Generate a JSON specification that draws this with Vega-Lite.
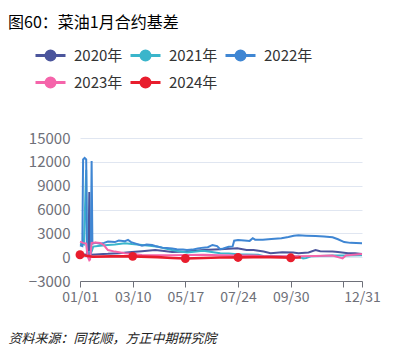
{
  "$schema": "https://vega.github.io/schema/vega-lite/v6.json",
  "width": 282,
  "height": 143,
  "autosize": {"type": "none"},
  "padding": {"left": 80, "top": 138, "right": 46, "bottom": 75},
  "background": "white",
  "config": {
    "font": "Noto Sans CJK SC",
    "view": {"stroke": null},
    "legend": {
      "orient": "none",
      "legendX": -41,
      "legendY": -94,
      "direction": "horizontal",
      "columns": 3,
      "symbolType": "M-1.5,0H1.5M-0.45,0A0.45,0.45 0 1,1 0.45,0A0.45,0.45 0 1,1 -0.45,0Z",
      "symbolSize": 400,
      "symbolStrokeWidth": 3,
      "labelFontSize": 15,
      "labelColor": "#333333",
      "labelOffset": 12,
      "columnPadding": 1,
      "rowPadding": 5
    }
  },
  "title": {
    "text": "图60：菜油1月合约基差",
    "anchor": "start",
    "frame": "group",
    "dx": -72,
    "dy": -5,
    "offset": 8,
    "fontSize": 16,
    "fontWeight": "normal",
    "color": "#000000"
  },
  "datasets": {
    "dots": [
      {"year": "2024年", "date": "2023/01/01", "value": 300},
      {"year": "2024年", "date": "2023/03/10", "value": 100},
      {"year": "2024年", "date": "2023/05/17", "value": -170},
      {"year": "2024年", "date": "2023/07/24", "value": -30},
      {"year": "2024年", "date": "2023/09/30", "value": -80}
    ]
  },
  "data": {"values": [
    {"year": "2020年", "date": "2023/01/01", "value": 400},
    {"year": "2020年", "date": "2023/01/06", "value": 350},
    {"year": "2020年", "date": "2023/01/12", "value": 300},
    {"year": "2020年", "date": "2023/01/13", "value": 8200},
    {"year": "2020年", "date": "2023/01/14", "value": 300},
    {"year": "2020年", "date": "2023/01/21", "value": 350},
    {"year": "2020年", "date": "2023/01/31", "value": 400},
    {"year": "2020年", "date": "2023/02/06", "value": 420},
    {"year": "2020年", "date": "2023/02/20", "value": 500},
    {"year": "2020年", "date": "2023/03/09", "value": 650},
    {"year": "2020年", "date": "2023/03/22", "value": 750},
    {"year": "2020年", "date": "2023/04/08", "value": 900},
    {"year": "2020年", "date": "2023/04/17", "value": 800},
    {"year": "2020年", "date": "2023/04/30", "value": 650},
    {"year": "2020年", "date": "2023/05/19", "value": 700},
    {"year": "2020年", "date": "2023/06/09", "value": 900},
    {"year": "2020年", "date": "2023/07/01", "value": 1000},
    {"year": "2020年", "date": "2023/07/23", "value": 1120},
    {"year": "2020年", "date": "2023/08/04", "value": 900},
    {"year": "2020年", "date": "2023/08/13", "value": 900},
    {"year": "2020年", "date": "2023/08/26", "value": 700},
    {"year": "2020年", "date": "2023/09/04", "value": 500},
    {"year": "2020年", "date": "2023/09/19", "value": 620},
    {"year": "2020年", "date": "2023/10/03", "value": 600},
    {"year": "2020年", "date": "2023/10/10", "value": 500},
    {"year": "2020年", "date": "2023/10/23", "value": 600},
    {"year": "2020年", "date": "2023/11/01", "value": 900},
    {"year": "2020年", "date": "2023/11/07", "value": 750},
    {"year": "2020年", "date": "2023/11/23", "value": 700},
    {"year": "2020年", "date": "2023/11/30", "value": 650},
    {"year": "2020年", "date": "2023/12/13", "value": 500},
    {"year": "2020年", "date": "2023/12/22", "value": 500},
    {"year": "2020年", "date": "2023/12/31", "value": 400},
    {"year": "2021年", "date": "2023/01/01", "value": 1700},
    {"year": "2021年", "date": "2023/01/06", "value": 1600},
    {"year": "2021年", "date": "2023/01/09", "value": 11000},
    {"year": "2021年", "date": "2023/01/10", "value": 600},
    {"year": "2021年", "date": "2023/01/16", "value": 700},
    {"year": "2021年", "date": "2023/01/18", "value": 1330},
    {"year": "2021年", "date": "2023/01/27", "value": 1450},
    {"year": "2021年", "date": "2023/02/06", "value": 1540},
    {"year": "2021年", "date": "2023/02/15", "value": 1600},
    {"year": "2021年", "date": "2023/02/28", "value": 1750},
    {"year": "2021年", "date": "2023/03/09", "value": 1650},
    {"year": "2021年", "date": "2023/03/22", "value": 1540},
    {"year": "2021年", "date": "2023/04/01", "value": 1450},
    {"year": "2021年", "date": "2023/04/12", "value": 1300},
    {"year": "2021年", "date": "2023/04/21", "value": 1100},
    {"year": "2021年", "date": "2023/04/30", "value": 900},
    {"year": "2021年", "date": "2023/05/09", "value": 750},
    {"year": "2021年", "date": "2023/05/19", "value": 600},
    {"year": "2021年", "date": "2023/05/31", "value": 700},
    {"year": "2021年", "date": "2023/06/09", "value": 800},
    {"year": "2021年", "date": "2023/06/20", "value": 650},
    {"year": "2021年", "date": "2023/07/01", "value": 500},
    {"year": "2021年", "date": "2023/07/12", "value": 450},
    {"year": "2021年", "date": "2023/07/23", "value": 360},
    {"year": "2021年", "date": "2023/08/04", "value": 350},
    {"year": "2021年", "date": "2023/08/19", "value": 300},
    {"year": "2021年", "date": "2023/08/28", "value": 100},
    {"year": "2021年", "date": "2023/09/08", "value": 150},
    {"year": "2021年", "date": "2023/09/19", "value": 100},
    {"year": "2021年", "date": "2023/09/30", "value": 80},
    {"year": "2021年", "date": "2023/10/10", "value": 100},
    {"year": "2021年", "date": "2023/10/16", "value": -150},
    {"year": "2021年", "date": "2023/10/20", "value": -100},
    {"year": "2021年", "date": "2023/10/26", "value": 100},
    {"year": "2021年", "date": "2023/11/07", "value": 150},
    {"year": "2021年", "date": "2023/11/23", "value": 200},
    {"year": "2021年", "date": "2023/12/07", "value": 200},
    {"year": "2021年", "date": "2023/12/31", "value": 250},
    {"year": "2022年", "date": "2023/01/01", "value": 1500},
    {"year": "2022年", "date": "2023/01/04", "value": 1400},
    {"year": "2022年", "date": "2023/01/05", "value": 12300},
    {"year": "2022年", "date": "2023/01/07", "value": 12500},
    {"year": "2022年", "date": "2023/01/09", "value": 12300},
    {"year": "2022年", "date": "2023/01/10", "value": 500},
    {"year": "2022年", "date": "2023/01/15", "value": 500},
    {"year": "2022年", "date": "2023/01/16", "value": 12100},
    {"year": "2022年", "date": "2023/01/17", "value": 1700},
    {"year": "2022年", "date": "2023/01/21", "value": 1800},
    {"year": "2022年", "date": "2023/01/27", "value": 1700},
    {"year": "2022年", "date": "2023/02/01", "value": 1800},
    {"year": "2022年", "date": "2023/02/06", "value": 1960},
    {"year": "2022年", "date": "2023/02/15", "value": 1900},
    {"year": "2022年", "date": "2023/02/20", "value": 2100},
    {"year": "2022年", "date": "2023/02/28", "value": 2000},
    {"year": "2022年", "date": "2023/03/04", "value": 2170},
    {"year": "2022年", "date": "2023/03/08", "value": 1900},
    {"year": "2022年", "date": "2023/03/14", "value": 1700},
    {"year": "2022年", "date": "2023/03/22", "value": 1450},
    {"year": "2022年", "date": "2023/03/28", "value": 1600},
    {"year": "2022年", "date": "2023/04/04", "value": 1540},
    {"year": "2022年", "date": "2023/04/08", "value": 1400},
    {"year": "2022年", "date": "2023/04/12", "value": 1300},
    {"year": "2022年", "date": "2023/04/17", "value": 1200},
    {"year": "2022年", "date": "2023/04/23", "value": 1150},
    {"year": "2022年", "date": "2023/04/30", "value": 1080},
    {"year": "2022年", "date": "2023/05/06", "value": 1000},
    {"year": "2022年", "date": "2023/05/14", "value": 950},
    {"year": "2022年", "date": "2023/05/19", "value": 900},
    {"year": "2022年", "date": "2023/05/26", "value": 950},
    {"year": "2022年", "date": "2023/06/02", "value": 1100},
    {"year": "2022年", "date": "2023/06/09", "value": 1200},
    {"year": "2022年", "date": "2023/06/15", "value": 1250},
    {"year": "2022年", "date": "2023/06/21", "value": 1540},
    {"year": "2022年", "date": "2023/06/27", "value": 1400},
    {"year": "2022年", "date": "2023/07/01", "value": 1000},
    {"year": "2022年", "date": "2023/07/05", "value": 1100},
    {"year": "2022年", "date": "2023/07/12", "value": 1300},
    {"year": "2022年", "date": "2023/07/17", "value": 1350},
    {"year": "2022年", "date": "2023/07/19", "value": 2080},
    {"year": "2022年", "date": "2023/07/24", "value": 2150},
    {"year": "2022年", "date": "2023/08/01", "value": 2100},
    {"year": "2022年", "date": "2023/08/08", "value": 2050},
    {"year": "2022年", "date": "2023/08/12", "value": 2380},
    {"year": "2022年", "date": "2023/08/15", "value": 2200},
    {"year": "2022年", "date": "2023/08/25", "value": 2200},
    {"year": "2022年", "date": "2023/09/05", "value": 2300},
    {"year": "2022年", "date": "2023/09/18", "value": 2380},
    {"year": "2022年", "date": "2023/09/27", "value": 2550},
    {"year": "2022年", "date": "2023/10/04", "value": 2700},
    {"year": "2022年", "date": "2023/10/10", "value": 2750},
    {"year": "2022年", "date": "2023/10/20", "value": 2700},
    {"year": "2022年", "date": "2023/11/01", "value": 2650},
    {"year": "2022年", "date": "2023/11/12", "value": 2600},
    {"year": "2022年", "date": "2023/11/23", "value": 2500},
    {"year": "2022年", "date": "2023/11/30", "value": 2250},
    {"year": "2022年", "date": "2023/12/08", "value": 1900},
    {"year": "2022年", "date": "2023/12/16", "value": 1800},
    {"year": "2022年", "date": "2023/12/31", "value": 1750},
    {"year": "2023年", "date": "2023/01/01", "value": 1950},
    {"year": "2023年", "date": "2023/01/05", "value": 1800},
    {"year": "2023年", "date": "2023/01/09", "value": 1700},
    {"year": "2023年", "date": "2023/01/11", "value": 60},
    {"year": "2023年", "date": "2023/01/13", "value": -400},
    {"year": "2023年", "date": "2023/01/14", "value": -300},
    {"year": "2023年", "date": "2023/01/16", "value": 1800},
    {"year": "2023年", "date": "2023/01/21", "value": 1850},
    {"year": "2023年", "date": "2023/01/27", "value": 1800},
    {"year": "2023年", "date": "2023/02/01", "value": 1500},
    {"year": "2023年", "date": "2023/02/06", "value": 900},
    {"year": "2023年", "date": "2023/02/15", "value": 700},
    {"year": "2023年", "date": "2023/02/28", "value": 500},
    {"year": "2023年", "date": "2023/03/10", "value": 400},
    {"year": "2023年", "date": "2023/03/22", "value": 280},
    {"year": "2023年", "date": "2023/04/15", "value": 250},
    {"year": "2023年", "date": "2023/04/30", "value": 250},
    {"year": "2023年", "date": "2023/05/20", "value": 280},
    {"year": "2023年", "date": "2023/06/09", "value": 300},
    {"year": "2023年", "date": "2023/07/01", "value": 250},
    {"year": "2023年", "date": "2023/07/23", "value": 200},
    {"year": "2023年", "date": "2023/08/15", "value": 200},
    {"year": "2023年", "date": "2023/08/28", "value": 100},
    {"year": "2023年", "date": "2023/09/20", "value": 100},
    {"year": "2023年", "date": "2023/10/10", "value": 100},
    {"year": "2023年", "date": "2023/11/01", "value": 150},
    {"year": "2023年", "date": "2023/11/23", "value": 200},
    {"year": "2023年", "date": "2023/12/06", "value": -150},
    {"year": "2023年", "date": "2023/12/10", "value": 200},
    {"year": "2023年", "date": "2023/12/20", "value": 300},
    {"year": "2023年", "date": "2023/12/31", "value": 400},
    {"year": "2024年", "date": "2023/01/01", "value": 300},
    {"year": "2024年", "date": "2023/01/17", "value": 60},
    {"year": "2024年", "date": "2023/02/10", "value": 100},
    {"year": "2024年", "date": "2023/03/10", "value": 100},
    {"year": "2024年", "date": "2023/04/11", "value": 0},
    {"year": "2024年", "date": "2023/04/30", "value": -100},
    {"year": "2024年", "date": "2023/05/17", "value": -170},
    {"year": "2024年", "date": "2023/06/09", "value": -100},
    {"year": "2024年", "date": "2023/06/30", "value": -50},
    {"year": "2024年", "date": "2023/07/24", "value": -30},
    {"year": "2024年", "date": "2023/08/13", "value": 0},
    {"year": "2024年", "date": "2023/09/04", "value": 0},
    {"year": "2024年", "date": "2023/09/19", "value": -30},
    {"year": "2024年", "date": "2023/09/30", "value": -80},
    {"year": "2024年", "date": "2023/10/10", "value": -50},
    {"year": "2024年", "date": "2023/10/13", "value": -30}
  ]},
  "encoding": {
    "x": {
      "field": "date",
      "type": "temporal",
      "scale": {"domain": [{"year": 2023, "month": 1, "date": 1}, {"year": 2023, "month": 12, "date": 31}]},
      "axis": {
        "values": [
          {"year": 2023, "month": 1, "date": 1},
          {"year": 2023, "month": 3, "date": 10},
          {"year": 2023, "month": 5, "date": 17},
          {"year": 2023, "month": 7, "date": 24},
          {"year": 2023, "month": 9, "date": 30},
          {"year": 2023, "month": 12, "date": 7},
          {"year": 2023, "month": 12, "date": 31}
        ],
        "format": "%m/%d",
        "labelExpr": "datum.label == '12/07' ? '' : datum.label",
        "labelFlush": false,
        "labelOverlap": false,
        "labelFontSize": 14,
        "labelColor": "#6e7079",
        "labelPadding": 3,
        "tickColor": "#6e7079",
        "domainColor": "#6e7079",
        "tickSize": 6,
        "grid": false,
        "title": "资料来源：同花顺，方正中期研究院",
        "titleAnchor": "start",
        "titleAlign": "left",
        "titleX": -72,
        "titleY": 57,
        "titleBaseline": "middle",
        "titleFontStyle": "italic",
        "titleFontWeight": "normal",
        "titleFontSize": 13,
        "titleColor": "#222222"
      }
    },
    "y": {
      "field": "value",
      "type": "quantitative",
      "scale": {"domain": [-3000, 15000], "nice": false, "zero": false},
      "axis": {
        "values": [-3000, 0, 3000, 6000, 9000, 12000, 15000],
        "format": "d",
        "domain": false,
        "ticks": false,
        "labelPadding": 10,
        "labelFontSize": 15,
        "labelColor": "#6e7079",
        "gridColor": "#e0e6f1",
        "title": null
      }
    },
    "color": {
      "field": "year",
      "type": "nominal",
      "scale": {
        "domain": ["2020年", "2021年", "2022年", "2023年", "2024年"],
        "range": ["#4b559c", "#3ab5cb", "#3f86d3", "#f564aa", "#e81d2d"]
      },
      "legend": {
        "title": null,
        "encode": {
          "symbols": {
            "update": {
              "fill": {"scale": "color", "field": "value"},
              "stroke": {"scale": "color", "field": "value"},
              "opacity": {"value": 1}
            }
          }
        }
      }
    }
  },
  "layer": [
    {
      "transform": [{"filter": "datum.year != '2024年'"}],
      "mark": {"type": "line", "strokeWidth": 2}
    },
    {
      "transform": [{"filter": "datum.year == '2024年'"}],
      "mark": {"type": "line", "strokeWidth": 2.6}
    },
    {
      "data": {"name": "dots"},
      "mark": {"type": "point", "filled": true, "size": 80, "opacity": 1}
    }
  ]
}
